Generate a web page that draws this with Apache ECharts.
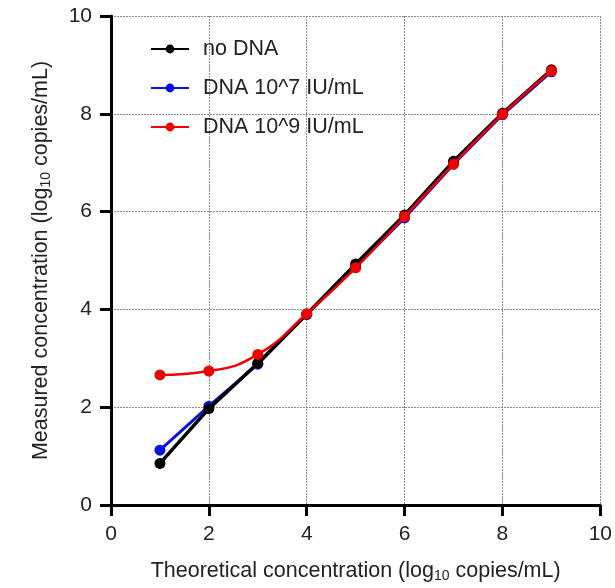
<!DOCTYPE html>
<html>
<head>
<meta charset="utf-8">
<script src="https://cdn.jsdelivr.net/npm/echarts@6/dist/echarts.min.js"></script>
<style>
  html, body { margin: 0; padding: 0; background: #fff; }
  #main { width: 615px; height: 588px; }
</style>
</head>
<body>
<div id="main"></div>
<script>
// theoretical concentration (log10 copies/mL)
var theoretical = [1, 2, 3, 4, 5, 6, 7, 8, 9];
var noDNA   = [0.85, 1.97, 2.90, 3.90, 4.93, 5.93, 7.03, 8.01, 8.90];
var dna10e7 = [1.12, 2.02, 2.88, 3.90, 4.87, 5.87, 6.97, 7.98, 8.86];
var dna10e9 = [2.66, 2.74, 3.08, 3.91, 4.85, 5.90, 6.97, 7.99, 8.88];
var names = ['no DNA', 'DNA 10^7 IU/mL', 'DNA 10^9 IU/mL'];

var font = 'Liberation Sans, Arial, sans-serif';

function pairs(ys) {
  return theoretical.map(function (x, i) { return [x, ys[i]]; });
}

var chart = echarts.init(document.getElementById('main'));

var axisCommon = {
  type: 'value',
  min: 0,
  max: 10,
  interval: 2,
  axisLine: { show: true, onZero: false, lineStyle: { color: '#000', width: 3 } },
  axisTick: { show: true, length: 11, lineStyle: { color: '#000', width: 3 } },
  axisLabel: { color: '#222', fontSize: 21, fontFamily: font, margin: 19 },
  splitLine: { show: true, lineStyle: { color: '#8a8a8a', type: [2, 1], width: 1 } },
  nameLocation: 'middle',
  nameTextStyle: {
    color: '#222', fontSize: 21.5, fontFamily: font,
    rich: { sub: { fontSize: 14, fontFamily: font, color: '#222', verticalAlign: 'bottom', padding: [10, 0, 0, 0] } }
  }
};

var option = {
  animation: false,
  backgroundColor: '#fff',
  grid: { left: 111, right: 13, top: 16, bottom: 80, containLabel: false },
  legend: {
    data: names,
    orient: 'vertical',
    left: 145,
    top: 33,
    itemWidth: 38,
    itemHeight: 11,
    itemGap: 17,
    textStyle: { color: '#222', fontSize: 21.5, fontFamily: font, padding: [0, 0, 0, 9] }
  },
  xAxis: Object.assign({}, axisCommon, {
    name: 'Theoretical concentration (log{sub|10} copies/mL)',
    nameGap: 54
  }),
  yAxis: Object.assign({}, axisCommon, {
    name: 'Measured concentration (log{sub|10} copies/mL)',
    nameGap: 58
  }),
  series: [
    {
      name: names[1], type: 'line', data: pairs(dna10e7), z: 2,
      color: '#0a14e0', symbol: 'circle', symbolSize: 11,
      lineStyle: { width: 3, color: '#0a14e0' }, itemStyle: { color: '#0a14e0' }
    },
    {
      name: names[0], type: 'line', data: pairs(noDNA), z: 3,
      color: '#000', symbol: 'circle', symbolSize: 11,
      lineStyle: { width: 3.5, color: '#000' }, itemStyle: { color: '#000' }
    },
    {
      name: names[2], type: 'line', data: pairs(dna10e9), z: 4, smooth: 0.5,
      color: '#f00000', symbol: 'circle', symbolSize: 11,
      lineStyle: { width: 2.5, color: '#f00000' }, itemStyle: { color: '#f00000' }
    }
  ]
};

chart.setOption(option);
</script>
</body>
</html>
